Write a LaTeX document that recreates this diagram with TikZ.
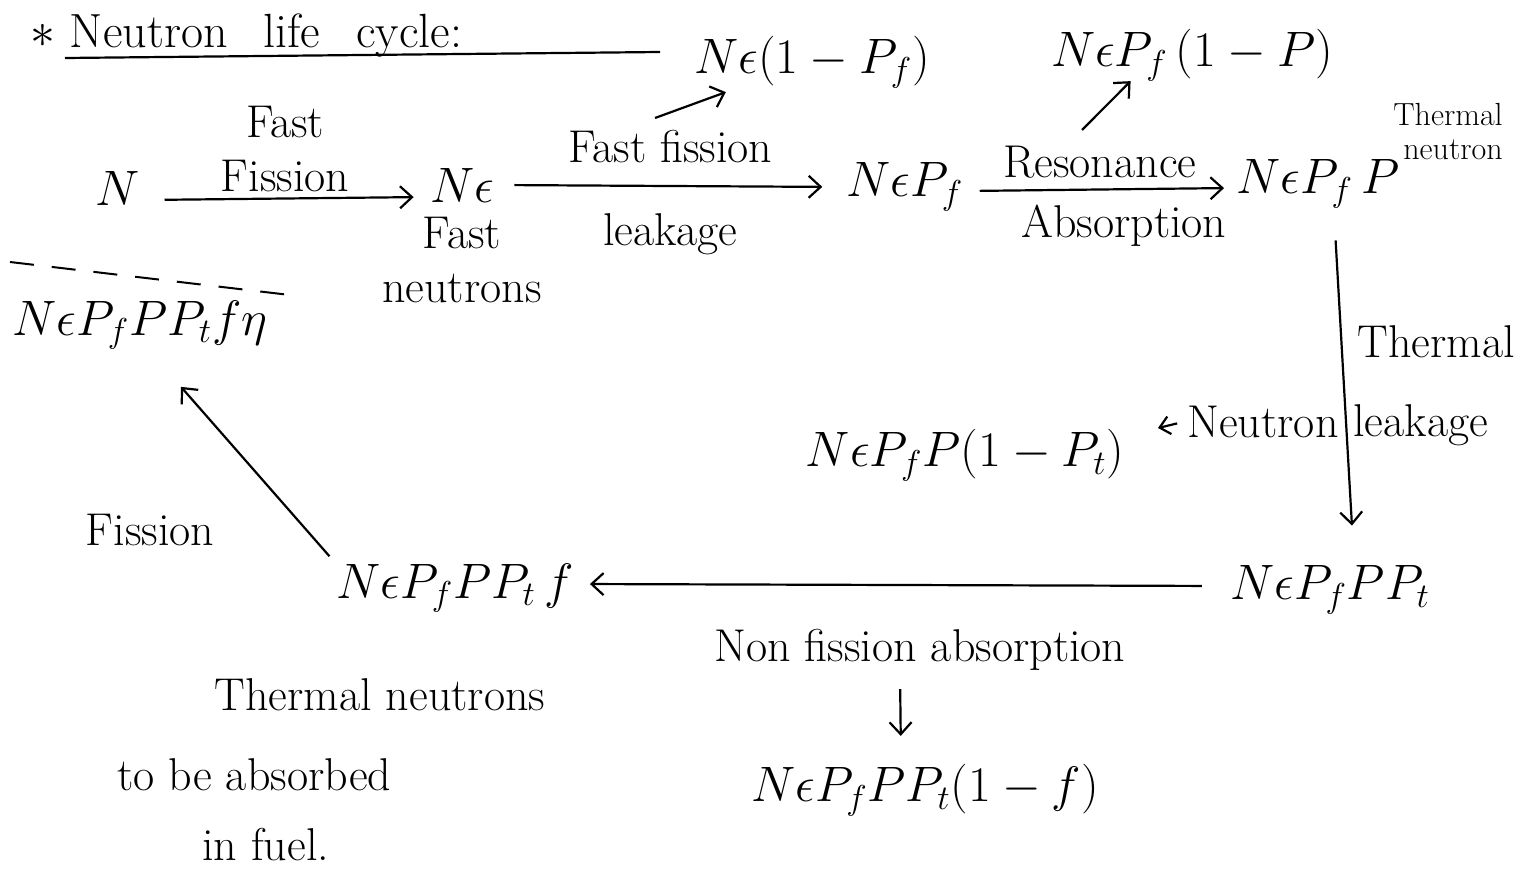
\documentclass[tikz,border=0pt]{standalone}
\usepackage{amsmath}
\usepackage{amssymb}
\usetikzlibrary{arrows.meta,positioning}

\begin{document}
\begin{tikzpicture}[x=0.5pt,y=-0.5pt,
  qty/.style={font=\fontsize{25}{29}\selectfont, inner sep=2pt},
  lbl/.style={font=\fontsize{23}{27}\selectfont, inner sep=1pt, align=center},
  note/.style={font=\fontsize{16}{17}\selectfont, inner sep=1pt, align=right},
  flow/.style={line width=1.1pt, -{Straight Barb[length=6pt,width=11pt]}}]
  \useasboundingbox (0,0) rectangle (1530,888);

  \node[anchor=base west, inner sep=0pt, font=\fontsize{24}{28}\selectfont] (title) at (30,48) {$\ast$\ Neutron\hspace{18pt}life\hspace{18pt}cycle:};
  \draw[line width=1.1pt] (65,58) -- (660,52);

  % top row
  \node[qty] (n) at (118,188) {$N$};
  \node[qty] (ne) at (462,185) {$N\epsilon$};
  \node[qty] (nepf) at (905,187) {$N\epsilon P_f$};
  \node[qty] (nepfp) at (1318,184) {$N\epsilon P_f\,P$};
  \node[qty] (nelk) at (812,62) {$N\epsilon(1-P_f)$};
  \node[qty] (nerp) at (1192,55) {$N\epsilon P_f\,(1-P)$};
  \node[note] (thn) at (1448,132) {Thermal\\neutron};

  \draw[flow, shorten <=10pt, shorten >=6pt] ([yshift=-6pt]n.east) -- node[lbl, above=2pt] {Fast\\Fission} ([yshift=-6pt]ne.west);
  \draw[flow, shorten <=8pt, shorten >=10pt] (ne.east) -- node[lbl, above=10pt] {Fast fission} node[lbl, below=12pt] {leakage} (nepf.west);
  \draw[flow, shorten <=6pt, shorten >=4pt] ([yshift=-2pt]nepf.east) -- node[lbl, above=4pt] {Resonance} node[lbl, below=6pt, xshift=12pt] {Absorption} ([yshift=-2pt]nepfp.west);
  \node[lbl, below=4pt of ne.south] (fastn) {Fast\\neutrons};

  \coordinate (ffs) at (655,118);
  \coordinate (rsa) at (1082,130);
  \draw[flow] (ffs) -- ([xshift=18pt]nelk.south west);
  \draw[flow] (rsa) -- ([xshift=42pt,yshift=2pt]nerp.south west);

  % right side
  \node[qty] (nepfppt) at (1330,590) {$N\epsilon P_f P P_t$};
  \node[qty] (nepfplt) at (965,455) {$N\epsilon P_f P(1-P_t)$};
  \draw[flow, shorten <=14pt, shorten >=18pt] ([xshift=8pt]nepfp.south) -- ([xshift=12pt]nepfppt.north) coordinate[pos=0.45] (tl);
  \node[lbl, anchor=west] (thl) at ([xshift=6pt,yshift=14pt]tl) {Thermal};
  \node[lbl, anchor=west] (lkg) at ([xshift=4pt,yshift=-28pt]tl) {leakage};
  \node[lbl, anchor=east] (neut) at ([xshift=-1pt,yshift=-26pt]tl) {Neutron};
  \coordinate (nlk) at (1158,428);
  \draw[line width=1.1pt, -{Straight Barb[length=5pt,width=9pt]}, shorten <=4pt] (neut.west) -- (nlk);

  % bottom row
  \node[qty] (nepfpptf) at (455,588) {$N\epsilon P_f P P_t\, f$};
  \node[lbl] (nfa) at (920,650) {Non fission absorption};
  \node[qty] (nepfpptlf) at (925,790) {$N\epsilon P_f P P_t(1-f)$};
  \draw[flow, shorten <=12pt, shorten >=6pt] ([yshift=2pt]nepfppt.west) -- ([yshift=2pt]nepfpptf.east);
  \draw[flow, shorten <=8pt, shorten >=12pt] ([xshift=-10pt]nfa.south) -- ([xshift=-12pt]nepfpptlf.north);

  % left side
  \node[qty] (eta) at (140,325) {$N\epsilon P_f P P_t f \eta$};
  \draw[dashed, dash pattern=on 12pt off 9pt, line width=1pt] (10,262) -- (290,295);
  \draw[flow, shorten <=2pt, shorten >=22pt] (nepfpptf.north west) -- ([xshift=6pt]eta.south);
  \node[lbl] (fis) at (150,530) {Fission};
  \node[lbl] (thabs) at (380,695) {Thermal neutrons};
  \node[lbl, anchor=west] (tobe) at (115,775) {to be absorbed};
  \node[lbl, anchor=west] (fuel) at (200,845) {in fuel.};
\end{tikzpicture}
\end{document}
